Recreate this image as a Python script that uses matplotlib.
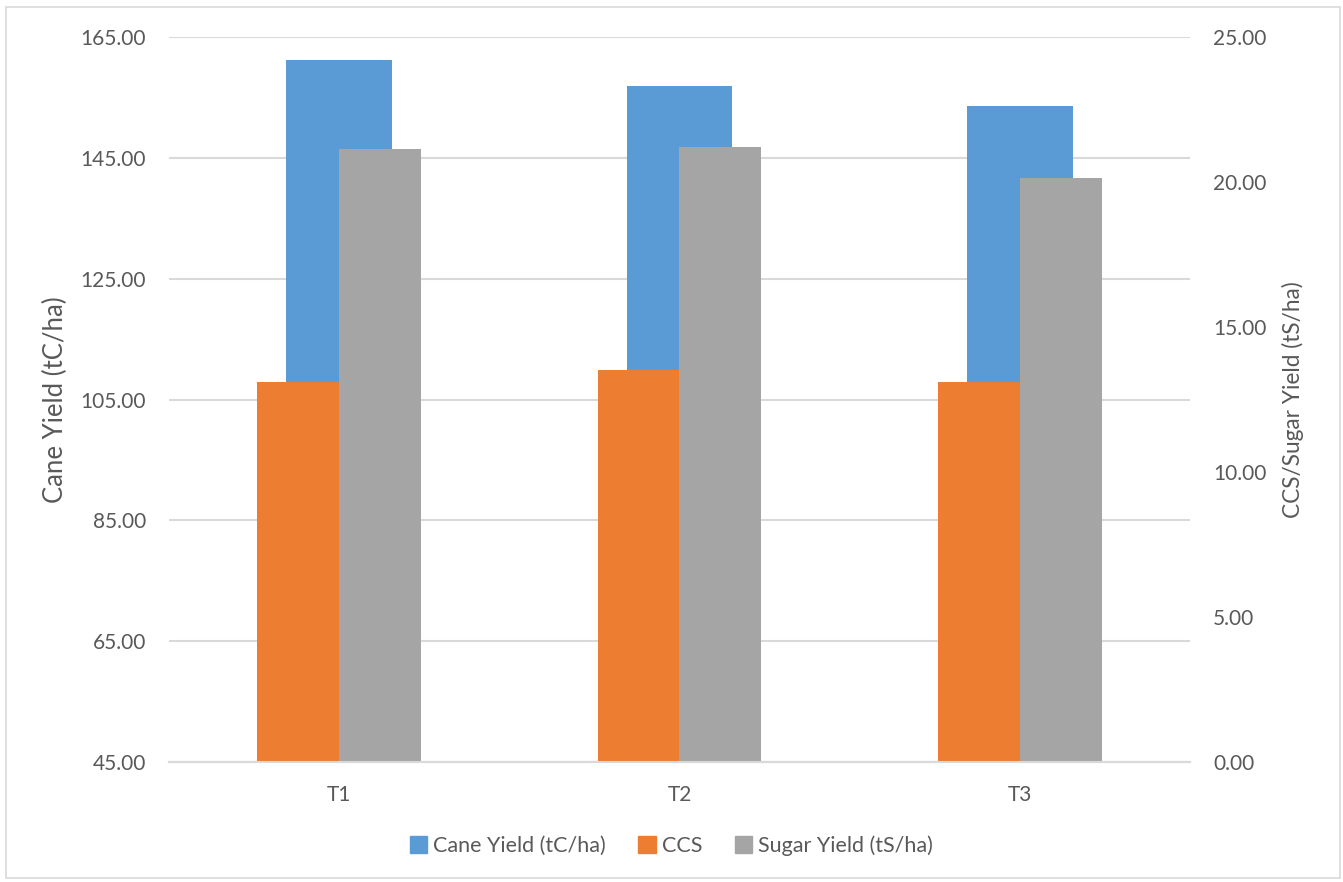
import numpy as np
import matplotlib.pyplot as plt
from matplotlib.patches import Patch, Rectangle

plt.rcParams['font.family'] = ['Lato', 'DejaVu Sans']

# Data
treatments = ["T1", "T2", "T3"]
cane_yield = [161.1, 156.8, 153.6]   # tC/ha, primary axis
ccs = [13.11, 13.51, 13.11]          # secondary axis
sugar_yield = [21.12, 21.21, 20.13]  # tS/ha, secondary axis

blue = "#5b9bd5"
orange = "#ed7d31"
gray = "#a5a5a5"
text_col = "#595959"
grid_col = "#d9d9d9"

fig = plt.figure(figsize=(13.43, 8.82), dpi=100)
ax = fig.add_axes([0.1258, 0.1357, 0.7603, 0.8227])
ax2 = ax.twinx()

x = np.arange(len(treatments))

ax.bar(x, [v - 45 for v in cane_yield], width=0.31, bottom=45, color=blue, zorder=2)
ax2.bar(x, ccs, width=-0.24, align="edge", color=orange, zorder=2)
ax2.bar(x, sugar_yield, width=0.24, align="edge", color=gray, zorder=2)

ax.set_xlim(-0.5, 2.5)
ax.set_ylim(45, 165)
ax.set_yticks(np.arange(45, 166, 20))
ax.set_yticklabels([f"{v:.2f}" for v in np.arange(45, 166, 20)])
ax2.set_ylim(0, 25)
ax2.set_yticks(np.arange(0, 26, 5))
ax2.set_yticklabels([f"{v:.2f}" for v in np.arange(0, 26, 5)])

ax.set_xticks(x)
ax.set_xticklabels(treatments)

ax.yaxis.grid(True, color=grid_col, linewidth=1.5, zorder=0)
ax.set_axisbelow(True)

for a in (ax, ax2):
    for s in ("top", "left", "right"):
        a.spines[s].set_visible(False)
    a.spines["bottom"].set_color(grid_col)
    a.spines["bottom"].set_linewidth(1.5)
    a.tick_params(length=0, labelsize=15, labelcolor=text_col)

ax.tick_params(axis="y", pad=16.5)
ax.tick_params(axis="x", pad=16)
ax2.tick_params(axis="y", pad=16.5)

ax.set_ylabel("Cane Yield (tC/ha)", fontsize=18.5, color=text_col, labelpad=9)
ax2.set_ylabel("CCS/Sugar Yield (tS/ha)", fontsize=16.3, color=text_col, labelpad=11)

handles = [Patch(color=blue), Patch(color=orange), Patch(color=gray)]
labels = ["Cane Yield (tC/ha)", "CCS", "Sugar Yield (tS/ha)"]
fig.legend(handles, labels, loc="center", bbox_to_anchor=(0.5, 0.041), ncol=3,
           frameon=False, fontsize=15.5, labelcolor=text_col,
           handlelength=0.8, handleheight=0.8, handletextpad=0.3, columnspacing=1.5)

fig.patches.append(Rectangle((0.0045, 0.0045), 0.9935, 0.9875, transform=fig.transFigure,
                             fill=False, edgecolor=grid_col, linewidth=1.2))

fig.savefig("out.png", dpi=100)
